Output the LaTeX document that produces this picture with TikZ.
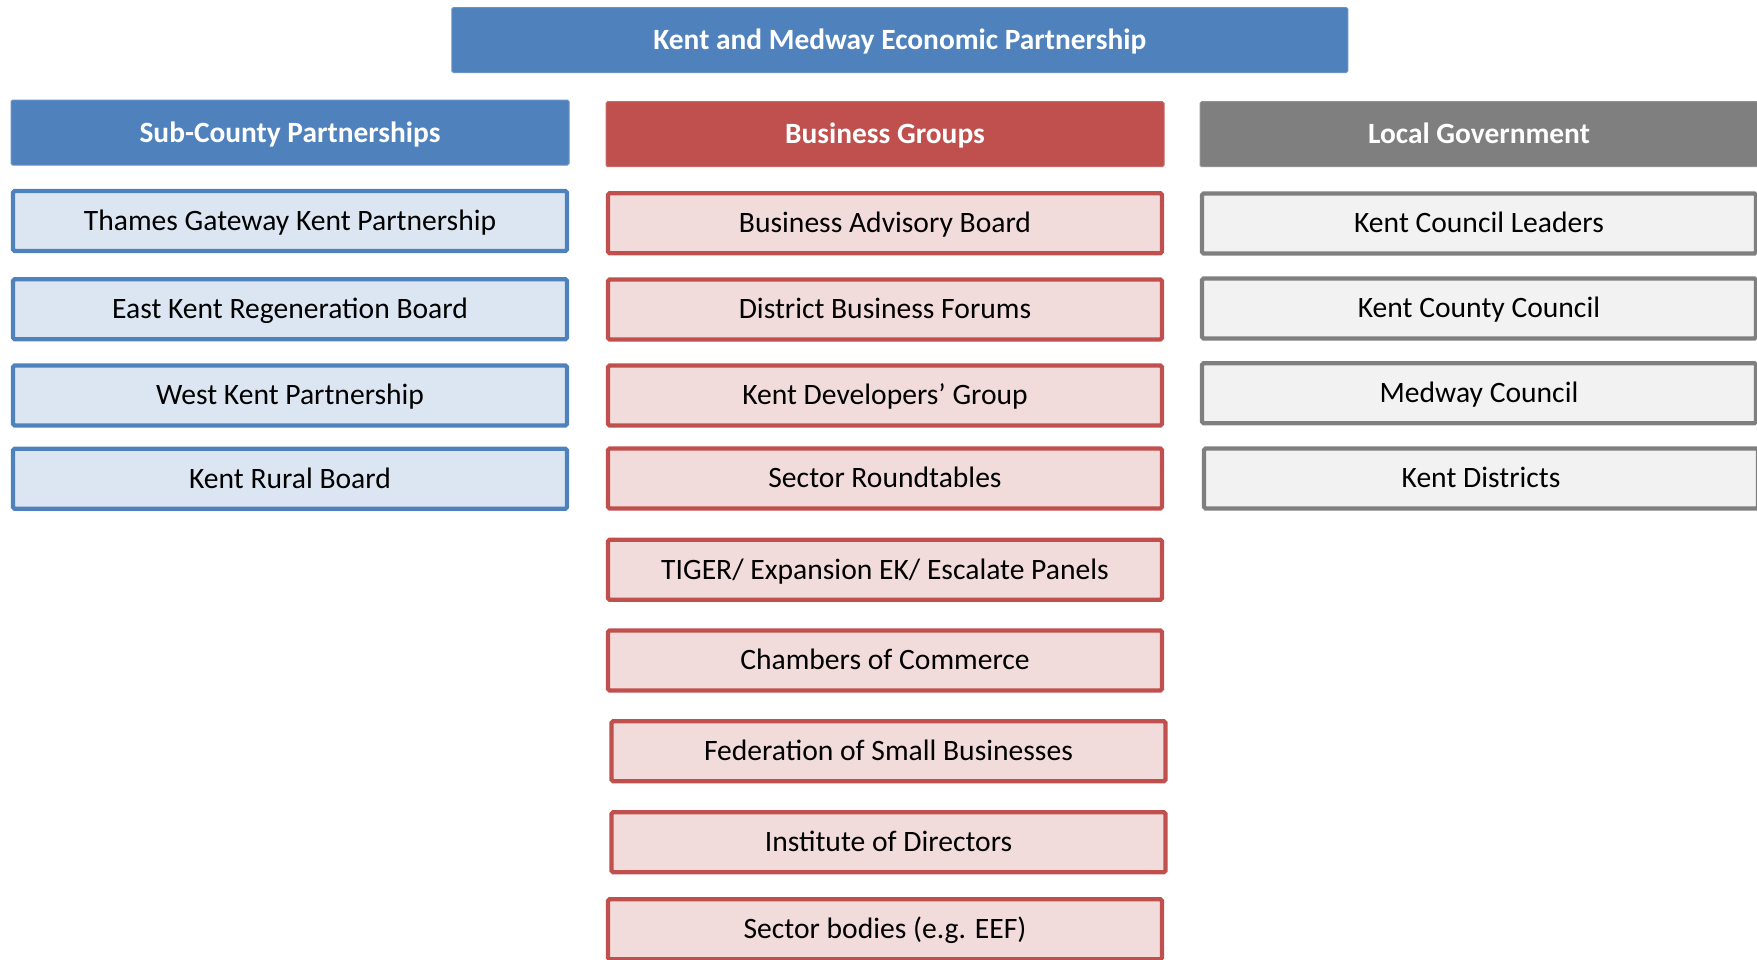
\documentclass[tikz,border=0pt]{standalone}
\usepackage{fontspec}
\setmainfont{Carlito}
\definecolor{accblue}{HTML}{4F81BD}
\definecolor{paleblue}{HTML}{DCE6F2}
\definecolor{accred}{HTML}{C0504D}
\definecolor{palered}{HTML}{F2DCDB}
\definecolor{accgray}{HTML}{7F7F7F}
\definecolor{palegray}{HTML}{F2F2F2}
\tikzset{
  headbox/.style={rectangle, rounded corners=0.8pt, fill=#1, draw=#1!85!white, line width=0.5pt,
    minimum width=279pt, minimum height=32.5pt, inner sep=0pt, text=white,
    text height=0.95em, text depth=0pt,
    font=\fontsize{14.7pt}{17pt}\selectfont\bfseries},
  itembox/.style 2 args={rectangle, rounded corners=0.8pt, fill=#2, draw=#1, line width=2.1pt,
    minimum width=277pt, minimum height=30pt, inner sep=0pt, text=black,
    text height=0.93em, text depth=0pt,
    font=\fontsize{14.8pt}{17pt}\selectfont},
  bluebox/.style={itembox={accblue}{paleblue}},
  redbox/.style={itembox={accred}{palered}},
  graybox/.style={itembox={accgray}{palegray}},
}
\begin{document}
\begin{tikzpicture}[x=0.5pt,y=-0.5pt]
\useasboundingbox (0,0) rectangle (1757,959);
\clip (0,0) rectangle (1757,959);
% top partnership banner
\node[headbox=accblue, minimum width=448pt] (kmep) at (899.8,40) {Kent and Medway Economic Partnership};
% column headers
\node[headbox=accblue] (subcounty) at (290,132.5) {Sub-County Partnerships};
\node[headbox=accred] (business) at (885,134.2) {Business Groups};
\node[headbox=accgray] (localgov) at (1479,134.2) {Local Government};
% sub-county partnerships
\node[bluebox] (tgkp) at (290,221) {Thames Gateway Kent Partnership};
\node[bluebox] (ekrb) at (290,309.2) {East Kent Regeneration Board};
\node[bluebox] (wkp) at (290,395.5) {West Kent Partnership};
\node[bluebox] (krb) at (290,478.7) {Kent Rural Board};
% business groups
\node[redbox] (bab) at (885,223.3) {Business Advisory Board};
\node[redbox] (dbf) at (885,309.5) {District Business Forums};
\node[redbox] (kdg) at (885,395.5) {Kent Developers’ Group};
\node[redbox] (sr) at (885,478.5) {Sector Roundtables};
\node[redbox] (tiger) at (885,569.7) {TIGER/ Expansion EK/ Escalate Panels};
\node[redbox] (coc) at (885,660.5) {Chambers of Commerce};
\node[redbox] (fsb) at (888.5,751.2) {Federation of Small Businesses};
\node[redbox] (iod) at (888.5,842.2) {Institute of Directors};
\node[redbox] (sb) at (885,929.3) {Sector bodies (e.g. EEF)};
% local government
\node[graybox] (kcl) at (1479,223.5) {Kent Council Leaders};
\node[graybox] (kcc) at (1479,308.5) {Kent County Council};
\node[graybox] (mc) at (1479,393.2) {Medway Council};
\node[graybox] (kd) at (1481,478.5) {Kent Districts};
\end{tikzpicture}
\end{document}
